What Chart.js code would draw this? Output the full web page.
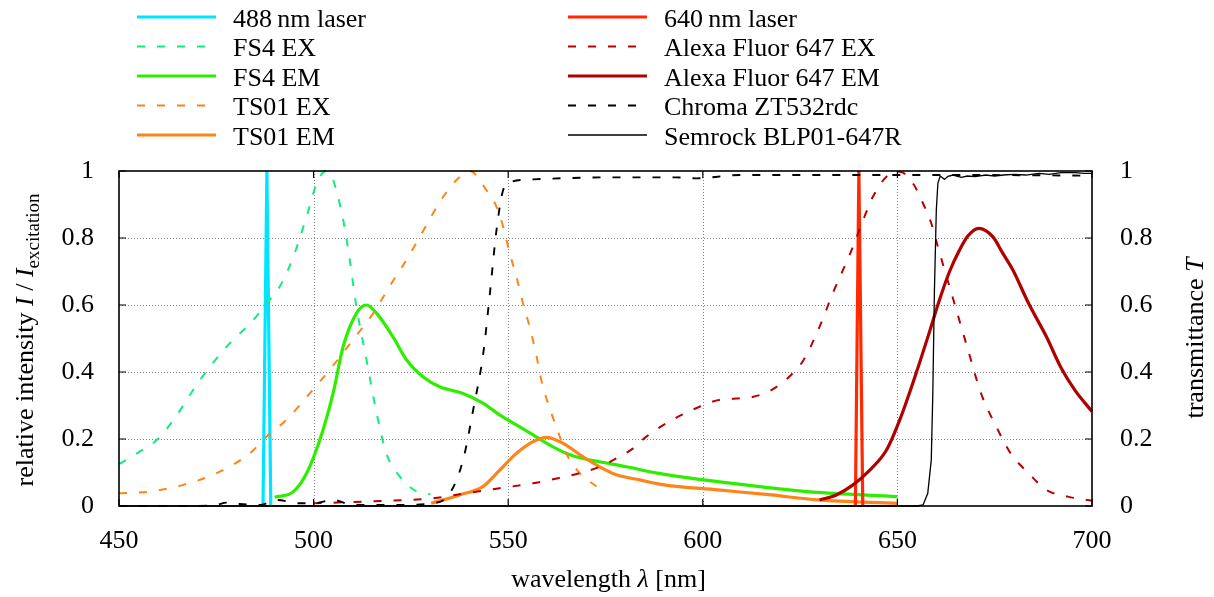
<!DOCTYPE html>
<html><head><meta charset="utf-8">
<script src="https://cdn.jsdelivr.net/npm/chart.js@4"></script>
<style>html,body{margin:0;padding:0;background:#fff;}#wrap{width:1214px;height:597px;}</style>
</head><body><div id="wrap"><canvas id="c" width="1214" height="597"></canvas></div>
<script>
// ---- tick labels ----
const xTickValues = [450, 500, 550, 600, 650, 700];
const yTickValues = [0, 0.2, 0.4, 0.6, 0.8, 1];
const yTickLabels = ['0', '0.2', '0.4', '0.6', '0.8', '1'];

// ---- series (wavelength in nm, relative value) ----
const laser488Wl = [487.0, 488.0, 489.0];
const laser488Val = [0, 1, 0];

const fs4ExWl = [450, 455, 459.7, 464, 470.8, 477.7, 484.5, 488, 491.3, 494.8, 498.2, 500.8, 503.2, 505, 507.6, 509.3, 511, 513.6, 516.2, 518.7, 522.2, 526.5, 530];
const fs4ExVal = [0.125, 0.16, 0.197, 0.257, 0.376, 0.476, 0.555, 0.605, 0.655, 0.744, 0.864, 0.963, 1.0, 0.973, 0.854, 0.734, 0.595, 0.436, 0.277, 0.157, 0.087, 0.043, 0.035];

const fs4EmWl = [490, 494.8, 498.2, 501.6, 505, 507.6, 511, 513.6, 516.2, 520.4, 523.9, 528.1, 532.4, 538.4, 543.5, 547.8, 552.1, 556.4, 560.7, 565, 569.2, 573.5, 580.4, 588.3, 600.2, 613, 626.8, 650];
const fs4EmVal = [0.026, 0.043, 0.098, 0.197, 0.336, 0.476, 0.575, 0.6, 0.575, 0.505, 0.436, 0.386, 0.356, 0.336, 0.307, 0.272, 0.242, 0.212, 0.182, 0.157, 0.142, 0.132, 0.117, 0.098, 0.078, 0.06, 0.043, 0.028];

const ts01ExWl = [450, 458, 466.5, 475.1, 483.6, 487.9, 493, 499, 504.8, 510.1, 515.3, 519.5, 523.8, 528.1, 530.7, 533.3, 536.7, 540.1, 544.4, 547, 548.7, 550.4, 552.1, 553.8, 555.5, 557.3, 558.5, 561.1, 562.8, 564.9, 568.4, 572.7];
const ts01ExVal = [0.038, 0.043, 0.063, 0.098, 0.157, 0.207, 0.257, 0.336, 0.416, 0.496, 0.575, 0.655, 0.734, 0.82, 0.874, 0.923, 0.973, 1.0, 0.943, 0.893, 0.834, 0.754, 0.685, 0.605, 0.535, 0.446, 0.376, 0.277, 0.222, 0.157, 0.098, 0.058];

const ts01EmWl = [530.2, 537.5, 543.5, 547.8, 552.1, 556.4, 559.8, 564.1, 569.2, 573.5, 577.8, 583.8, 590.1, 603.9, 617.6, 629.5, 650];
const ts01EmVal = [0.008, 0.033, 0.058, 0.107, 0.157, 0.192, 0.205, 0.187, 0.147, 0.117, 0.093, 0.078, 0.063, 0.048, 0.033, 0.018, 0.008];

const laser640Wl = [639.2, 640.1, 641.1];
const laser640Val = [0, 1, 0];

const af647ExWl = [500, 510, 520, 530.7, 539.2, 547.8, 556.4, 562.8, 568.4, 573.5, 577.8, 582.1, 585.5, 592.9, 599.3, 603.9, 608.5, 613, 617.6, 622.2, 625.9, 630, 633.4, 636, 638.6, 641.2, 643.7, 647.2, 650.6, 654, 656.6, 658.7, 660.4, 664.4, 667.9, 671.5, 675.4, 679.1, 683.7, 688.3, 693.8, 700];
const af647ExVal = [0.008, 0.012, 0.016, 0.023, 0.038, 0.053, 0.068, 0.083, 0.098, 0.117, 0.142, 0.172, 0.207, 0.262, 0.297, 0.316, 0.321, 0.326, 0.346, 0.386, 0.436, 0.535, 0.635, 0.704, 0.774, 0.854, 0.923, 0.983, 0.998, 0.963, 0.903, 0.844, 0.774, 0.615, 0.476, 0.336, 0.237, 0.157, 0.098, 0.048, 0.028, 0.016];

const af647EmWl = [630, 634.3, 638.6, 642.9, 647.2, 650.6, 654.8, 658.3, 660.8, 663.4, 666, 668.1, 670.9, 674.5, 677.1, 679.7, 683.7, 688.3, 691.9, 695.6, 700];
const af647EmVal = [0.018, 0.033, 0.063, 0.107, 0.167, 0.257, 0.396, 0.522, 0.615, 0.7, 0.765, 0.806, 0.829, 0.804, 0.754, 0.704, 0.605, 0.505, 0.416, 0.346, 0.282];

const chromaWl = [450, 470, 475, 477.6, 481, 486.2, 490.5, 496.5, 500, 505, 510, 522, 530.7, 535, 538.4, 541, 543.6, 545.3, 547, 548.7, 550.8, 556.4, 576.3, 592.8, 598.3, 609.4, 630, 650, 670, 700];
const chromaVal = [0, 0, 0.003, 0.01, 0.006, 0.003, 0.018, 0.008, 0.008, 0.018, 0.003, 0.003, 0.008, 0.038, 0.137, 0.287, 0.456, 0.635, 0.824, 0.943, 0.968, 0.975, 0.981, 0.981, 0.978, 0.988, 0.988, 0.988, 0.988, 0.986];

const semrockWl = [450, 600, 655, 656.6, 657.8, 658.7, 659.1, 659.5, 660, 660.4, 661, 662.1, 663, 664.3, 666.4, 668, 670, 672.7, 675, 677.2, 680, 683, 686.4, 689, 692, 695.6, 698, 700];
const semrockVal = [0, 0, 0, 0.003, 0.038, 0.137, 0.336, 0.635, 0.884, 0.963, 0.985, 0.975, 0.984, 0.988, 0.981, 0.985, 0.983, 0.988, 0.985, 0.988, 0.99, 0.988, 0.993, 0.99, 0.995, 0.995, 0.993, 0.993];

const seriesLabels = ['488\u2009nm laser', 'FS4 EX', 'FS4 EM', 'TS01 EX', 'TS01 EM', '640\u2009nm laser', 'Alexa Fluor 647 EX', 'Alexa Fluor 647 EM', 'Chroma ZT532rdc', 'Semrock BLP01-647R'];

// ---- styles ----
const FONT = '"Liberation Serif", "Times New Roman", serif';
const DASH = [8, 12];
const styles = [
  {c: '#00e5ff', w: 3.2, d: [], axis: 'y', smooth: false},
  {c: '#10ee7a', w: 2.0, d: DASH, axis: 'y', smooth: true},
  {c: '#2eee00', w: 3.2, d: [], axis: 'y', smooth: true},
  {c: '#ff8418', w: 2.0, d: DASH, axis: 'y', smooth: true},
  {c: '#ff8418', w: 3.2, d: [], axis: 'y', smooth: true},
  {c: '#ff2a00', w: 3.2, d: [], axis: 'y', smooth: false},
  {c: '#b80000', w: 2.0, d: DASH, axis: 'y', smooth: true},
  {c: '#b00000', w: 3.2, d: [], axis: 'y', smooth: true},
  {c: '#000000', w: 1.9, d: DASH, axis: 'y2', smooth: true},
  {c: '#000000', w: 1.3, d: [], axis: 'y2', smooth: false}
];
const seriesData = [
  [laser488Wl, laser488Val], [fs4ExWl, fs4ExVal], [fs4EmWl, fs4EmVal],
  [ts01ExWl, ts01ExVal], [ts01EmWl, ts01EmVal], [laser640Wl, laser640Val],
  [af647ExWl, af647ExVal], [af647EmWl, af647EmVal], [chromaWl, chromaVal], [semrockWl, semrockVal]
];

const datasets = seriesData.map((s, i) => ({
  label: seriesLabels[i],
  data: s[0].map((x, k) => ({x: x, y: s[1][k]})),
  borderColor: styles[i].c,
  backgroundColor: styles[i].c,
  borderWidth: styles[i].w,
  borderDash: styles[i].d,
  pointRadius: 0,
  fill: false,
  tension: 0,
  cubicInterpolationMode: styles[i].smooth ? 'monotone' : 'default',
  yAxisID: styles[i].axis,
  order: seriesData.length - i,
  clip: 4
}));

// ---- plugin: grid, frame, ticks, legend, titles ----
const decor = {
  id: 'decor',
  beforeDatasetsDraw(chart) {
    const {ctx, chartArea: a, scales} = chart;
    ctx.save();
    ctx.strokeStyle = '#808080';
    ctx.lineWidth = 1;
    ctx.setLineDash([1, 2]);
    xTickValues.slice(1, -1).forEach(v => {
      const px = Math.round(scales.x.getPixelForValue(v)) + 0.5;
      ctx.beginPath(); ctx.moveTo(px, a.top); ctx.lineTo(px, a.bottom); ctx.stroke();
    });
    yTickValues.slice(1, -1).forEach(v => {
      const py = Math.round(scales.y.getPixelForValue(v)) + 0.5;
      ctx.beginPath(); ctx.moveTo(a.left, py); ctx.lineTo(a.right, py); ctx.stroke();
    });
    ctx.restore();
  },
  afterDatasetsDraw(chart) {
    const {ctx, chartArea: a, scales} = chart;
    ctx.save();
    ctx.strokeStyle = '#000';
    ctx.setLineDash([]);
    ctx.lineWidth = 1.6;
    ctx.strokeRect(a.left, a.top, a.right - a.left, a.bottom - a.top);
    ctx.lineWidth = 1.2;
    const TL = 7;
    xTickValues.forEach(v => {
      const px = scales.x.getPixelForValue(v);
      ctx.beginPath(); ctx.moveTo(px, a.bottom); ctx.lineTo(px, a.bottom - TL);
      ctx.moveTo(px, a.top); ctx.lineTo(px, a.top + TL); ctx.stroke();
    });
    yTickValues.forEach(v => {
      const py = scales.y.getPixelForValue(v);
      ctx.beginPath(); ctx.moveTo(a.left, py); ctx.lineTo(a.left + TL, py);
      const py2 = scales.y2.getPixelForValue(v);
      ctx.moveTo(a.right, py2); ctx.lineTo(a.right - TL, py2); ctx.stroke();
    });
    ctx.restore();
  },
  afterDraw(chart) {
    const {ctx, chartArea: a} = chart;
    ctx.save();
    // legend (two columns, column-major)
    const cols = [{x0: 137, x1: 216, tx: 233}, {x0: 568, x1: 647, tx: 664}];
    ctx.font = '26px ' + FONT;
    ctx.fillStyle = '#000';
    ctx.textAlign = 'left';
    ctx.textBaseline = 'alphabetic';
    seriesLabels.forEach((lab, i) => {
      const col = cols[Math.floor(i / 5)];
      const y = 17 + (i % 5) * 29.5;
      const st = styles[i];
      ctx.strokeStyle = st.c;
      ctx.lineWidth = st.w;
      ctx.setLineDash(st.d);
      ctx.beginPath(); ctx.moveTo(col.x0, y); ctx.lineTo(col.x1, y); ctx.stroke();
      ctx.setLineDash([]);
      ctx.fillText(lab, col.tx, y + 9.5);
    });
    // helper for mixed-font text
    const drawRuns = (runs, cx, baseline) => {
      let total = 0;
      runs.forEach(r => { ctx.font = r.f; r.w = ctx.measureText(r.t).width; total += r.w; });
      let x = cx - total / 2;
      runs.forEach(r => { ctx.font = r.f; ctx.fillText(r.t, x, baseline + (r.dy || 0)); x += r.w; });
    };
    const N = '26px ' + FONT, I = 'italic 26px ' + FONT, S = '19px ' + FONT;
    // x title
    drawRuns([{t: 'wavelength ', f: N}, {t: '\u03bb', f: I}, {t: ' [nm]', f: N}], (a.left + a.right) / 2 + 3, 587);
    // left title
    ctx.save();
    ctx.translate(33, 340);
    ctx.rotate(-Math.PI / 2);
    drawRuns([{t: 'relative intensity ', f: N}, {t: 'I', f: I}, {t: ' / ', f: N}, {t: 'I', f: I}, {t: 'excitation', f: S, dy: 6}], 0, 0);
    ctx.restore();
    // right title
    ctx.save();
    ctx.translate(1203, 338);
    ctx.rotate(-Math.PI / 2);
    drawRuns([{t: 'transmittance ', f: N}, {t: 'T', f: I}], 0, 0);
    ctx.restore();
    ctx.restore();
  }
};

const tickFont = {family: FONT, size: 26};
new Chart(document.getElementById('c'), {
  type: 'line',
  data: {datasets: datasets},
  options: {
    responsive: false,
    devicePixelRatio: 1,
    animation: false,
    events: [],
    layout: {padding: {top: 171, left: 0, right: 0, bottom: 0}},
    plugins: {legend: {display: false}, tooltip: {enabled: false}},
    scales: {
      x: {
        type: 'linear', min: 450, max: 700,
        afterBuildTicks: s => { s.ticks = xTickValues.map(v => ({value: v})); },
        afterFit: s => { s.height = 91; },
        grid: {display: false}, border: {display: false},
        ticks: {font: tickFont, color: '#000', padding: 12, maxRotation: 0, autoSkip: false, callback: v => String(v)}
      },
      y: {
        type: 'linear', position: 'left', min: 0, max: 1,
        afterBuildTicks: s => { s.ticks = yTickValues.map(v => ({value: v})); },
        afterFit: s => { s.width = 119; },
        grid: {display: false}, border: {display: false},
        ticks: {font: tickFont, color: '#000', padding: 17, autoSkip: false, callback: v => yTickLabels[yTickValues.indexOf(v)]}
      },
      y2: {
        type: 'linear', position: 'right', min: 0, max: 1,
        afterBuildTicks: s => { s.ticks = yTickValues.map(v => ({value: v})); },
        afterFit: s => { s.width = 122; },
        grid: {display: false}, border: {display: false},
        ticks: {font: tickFont, color: '#000', padding: 20, autoSkip: false, callback: v => yTickLabels[yTickValues.indexOf(v)]}
      }
    }
  },
  plugins: [decor]
});
</script>
</body></html>
